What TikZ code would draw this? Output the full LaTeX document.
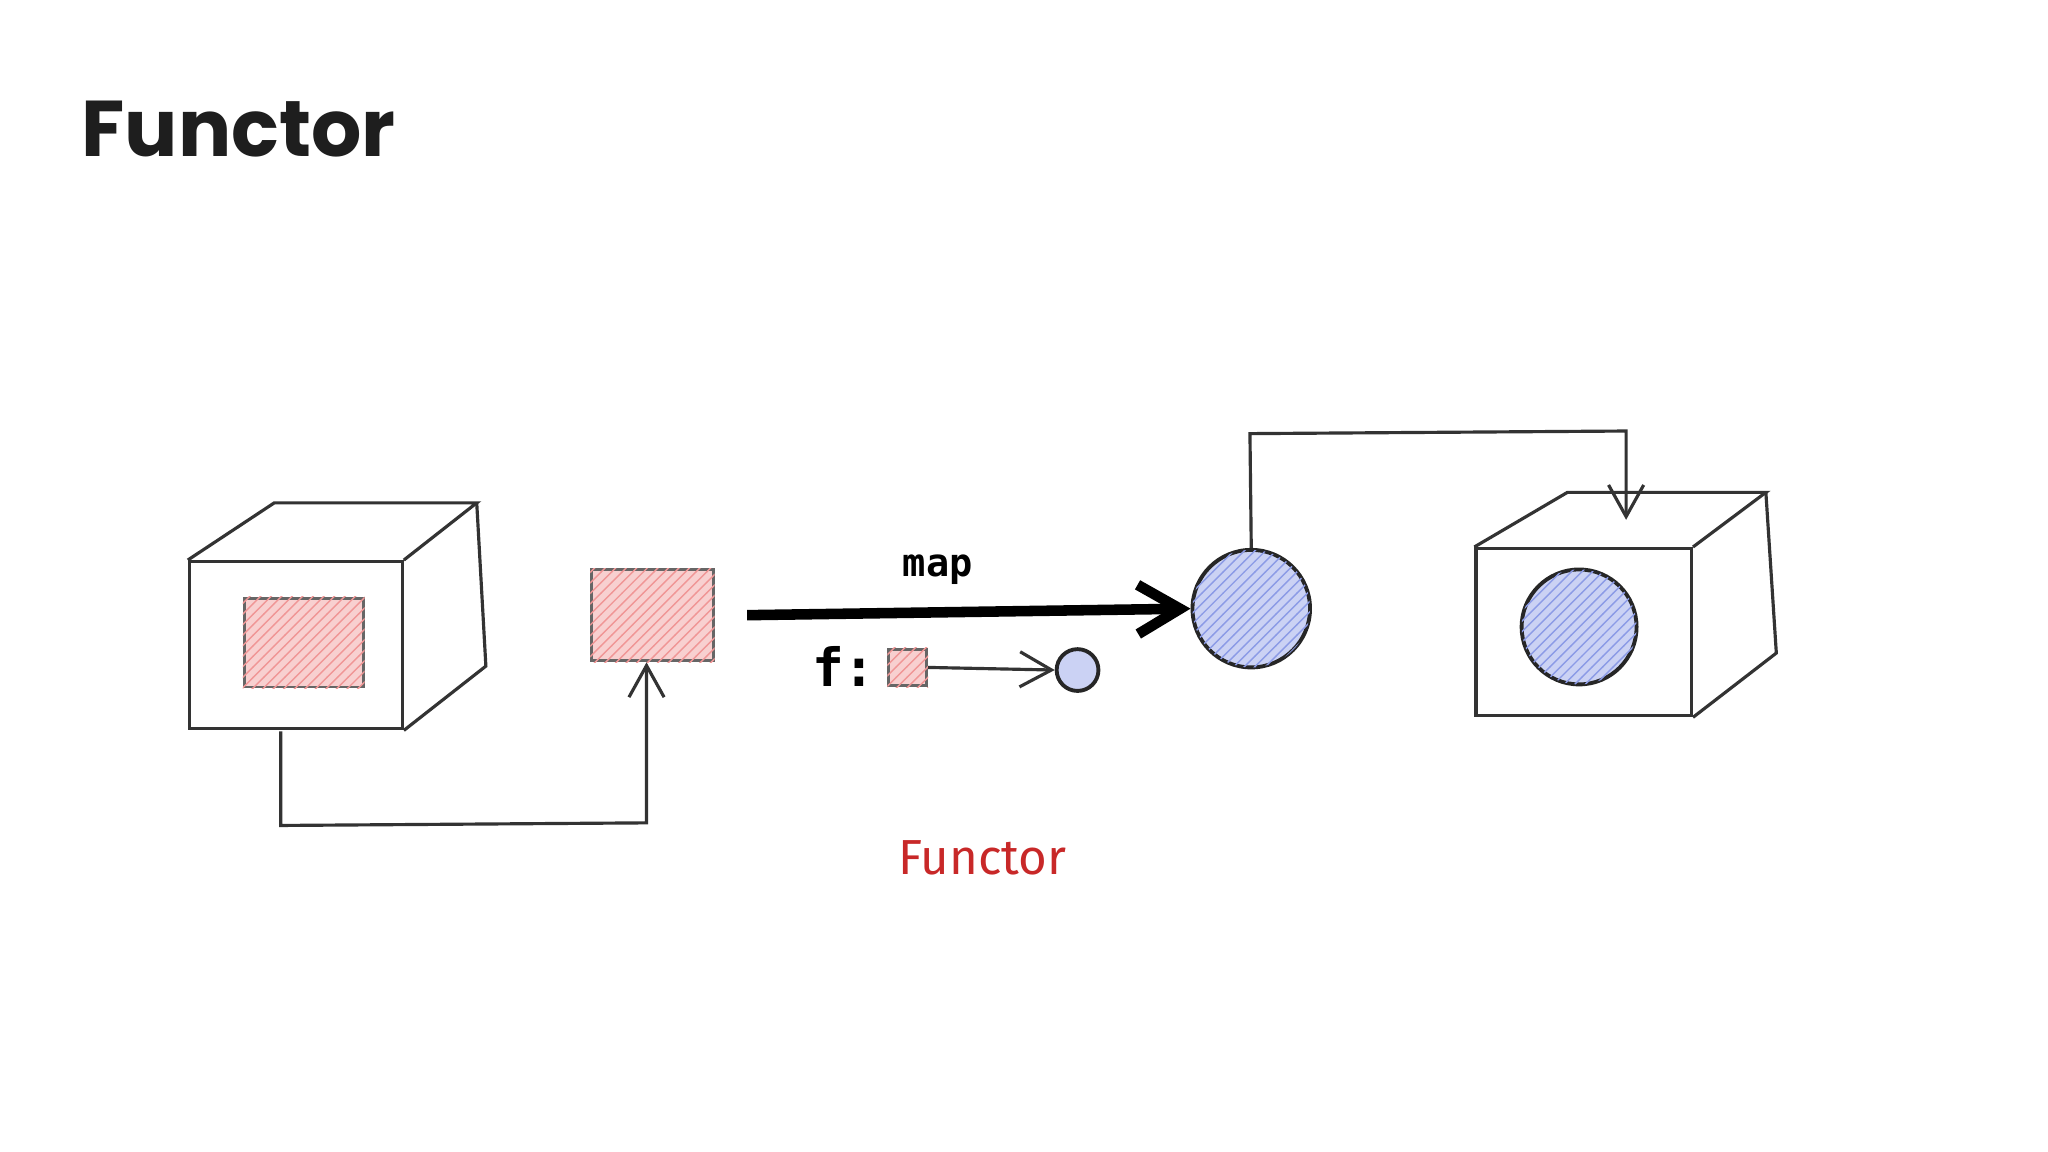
\documentclass[tikz,border=0pt]{standalone}
\usepackage{fontspec}
\setmainfont{Poppins}
\newfontfamily\monof{DejaVu Sans Mono}
\newfontfamily\handf{Fira Sans}
\usetikzlibrary{patterns,arrows.meta}
\definecolor{redf}{RGB}{240,150,150}
\definecolor{bluef}{RGB}{140,155,230}
\definecolor{ttl}{RGB}{30,30,30}
\tikzset{
 sk/.style={draw=black!80,line width=0.9pt},
 redbox/.style={rectangle,draw=black!60,line width=0.8pt,fill=redf!45,pattern color=redf,inner sep=0},
 bluec/.style={circle,draw=black!85,line width=1.1pt,fill=bluef!45,inner sep=0},
 arr/.style={sk,-{Straight Barb[length=9pt,width=10pt]}}
}
\begin{document}
\begin{tikzpicture}[x=0.013061cm,y=-0.013061cm]
\useasboundingbox[fill=white] (0,0) rectangle (1568,882);
\node[anchor=base west,text=ttl,font=\fontsize{22.5}{27}\selectfont\bfseries,inner sep=0] (title) at (62,120) {Functor};
% left cube
\node[sk,rectangle,minimum width=163*0.013061cm,minimum height=128*0.013061cm,inner sep=0] (lc) at (226.5,494) {};
\draw[sk] (lc.north west) -- (210,385) -- (365,385) -- (lc.north east);
\draw[sk] (365,385) -- (372,510) -- (lc.south east);
\node[redbox,minimum width=91*0.013061cm,minimum height=68*0.013061cm] (lr) at (232.5,492) {};
\fill[pattern=north east lines,pattern color=redf] (lr.south west) rectangle (lr.north east);
% standalone red
\node[redbox,minimum width=93*0.013061cm,minimum height=70*0.013061cm] (r2) at (499.5,471) {};
\fill[pattern=north east lines,pattern color=redf] (r2.south west) rectangle (r2.north east);
\draw[arr] (215,560) -- (215,632) -- (495,630) -- (r2.south -| 495,0);
% map
\node[font=\monof\bfseries\fontsize{11}{13}\selectfont] (maplbl) at (718,436) {map};
\coordinate (ms) at (572,471);
\node[bluec,minimum size=90*0.013061cm] (bc) at (958,466) {};
\fill[pattern=north east lines,pattern color=bluef] (bc) circle (45);
\draw[line width=3pt,-{Straight Barb[length=12pt,width=14pt]}] (ms) -- (bc.west);
% f:
\node[font=\monof\bfseries\fontsize{15}{18}\selectfont] (fl) at (646,510) {f:};
\node[redbox,minimum width=29*0.013061cm,minimum height=28*0.013061cm] (sr) at (695,511) {};
\fill[pattern=north east lines,pattern color=redf] (sr.south west) rectangle (sr.north east);
\node[bluec,minimum size=32*0.013061cm] (sb) at (825,513) {};
\draw[arr] (sr.east) -- (sb.west);
% top connector
\draw[arr] (bc.north) -- (957,332) -- (1245,330) -- (1245,398);
% right cube
\node[sk,rectangle,minimum width=165*0.013061cm,minimum height=128*0.013061cm,inner sep=0] (rc) at (1212.5,484) {};
\draw[sk] (rc.north west) -- (1200,377) -- (1352,377) -- (rc.north east);
\draw[sk] (1352,377) -- (1360,500) -- (rc.south east);
\node[bluec,minimum size=88*0.013061cm] (bc2) at (1209,480) {};
\fill[pattern=north east lines,pattern color=bluef] (bc2) circle (44);
\node[text={rgb,255:red,200;green,40;blue,40},font=\handf\fontsize{14}{16}\selectfont] (fn) at (752,657) {Functor};
\end{tikzpicture}
\end{document}
